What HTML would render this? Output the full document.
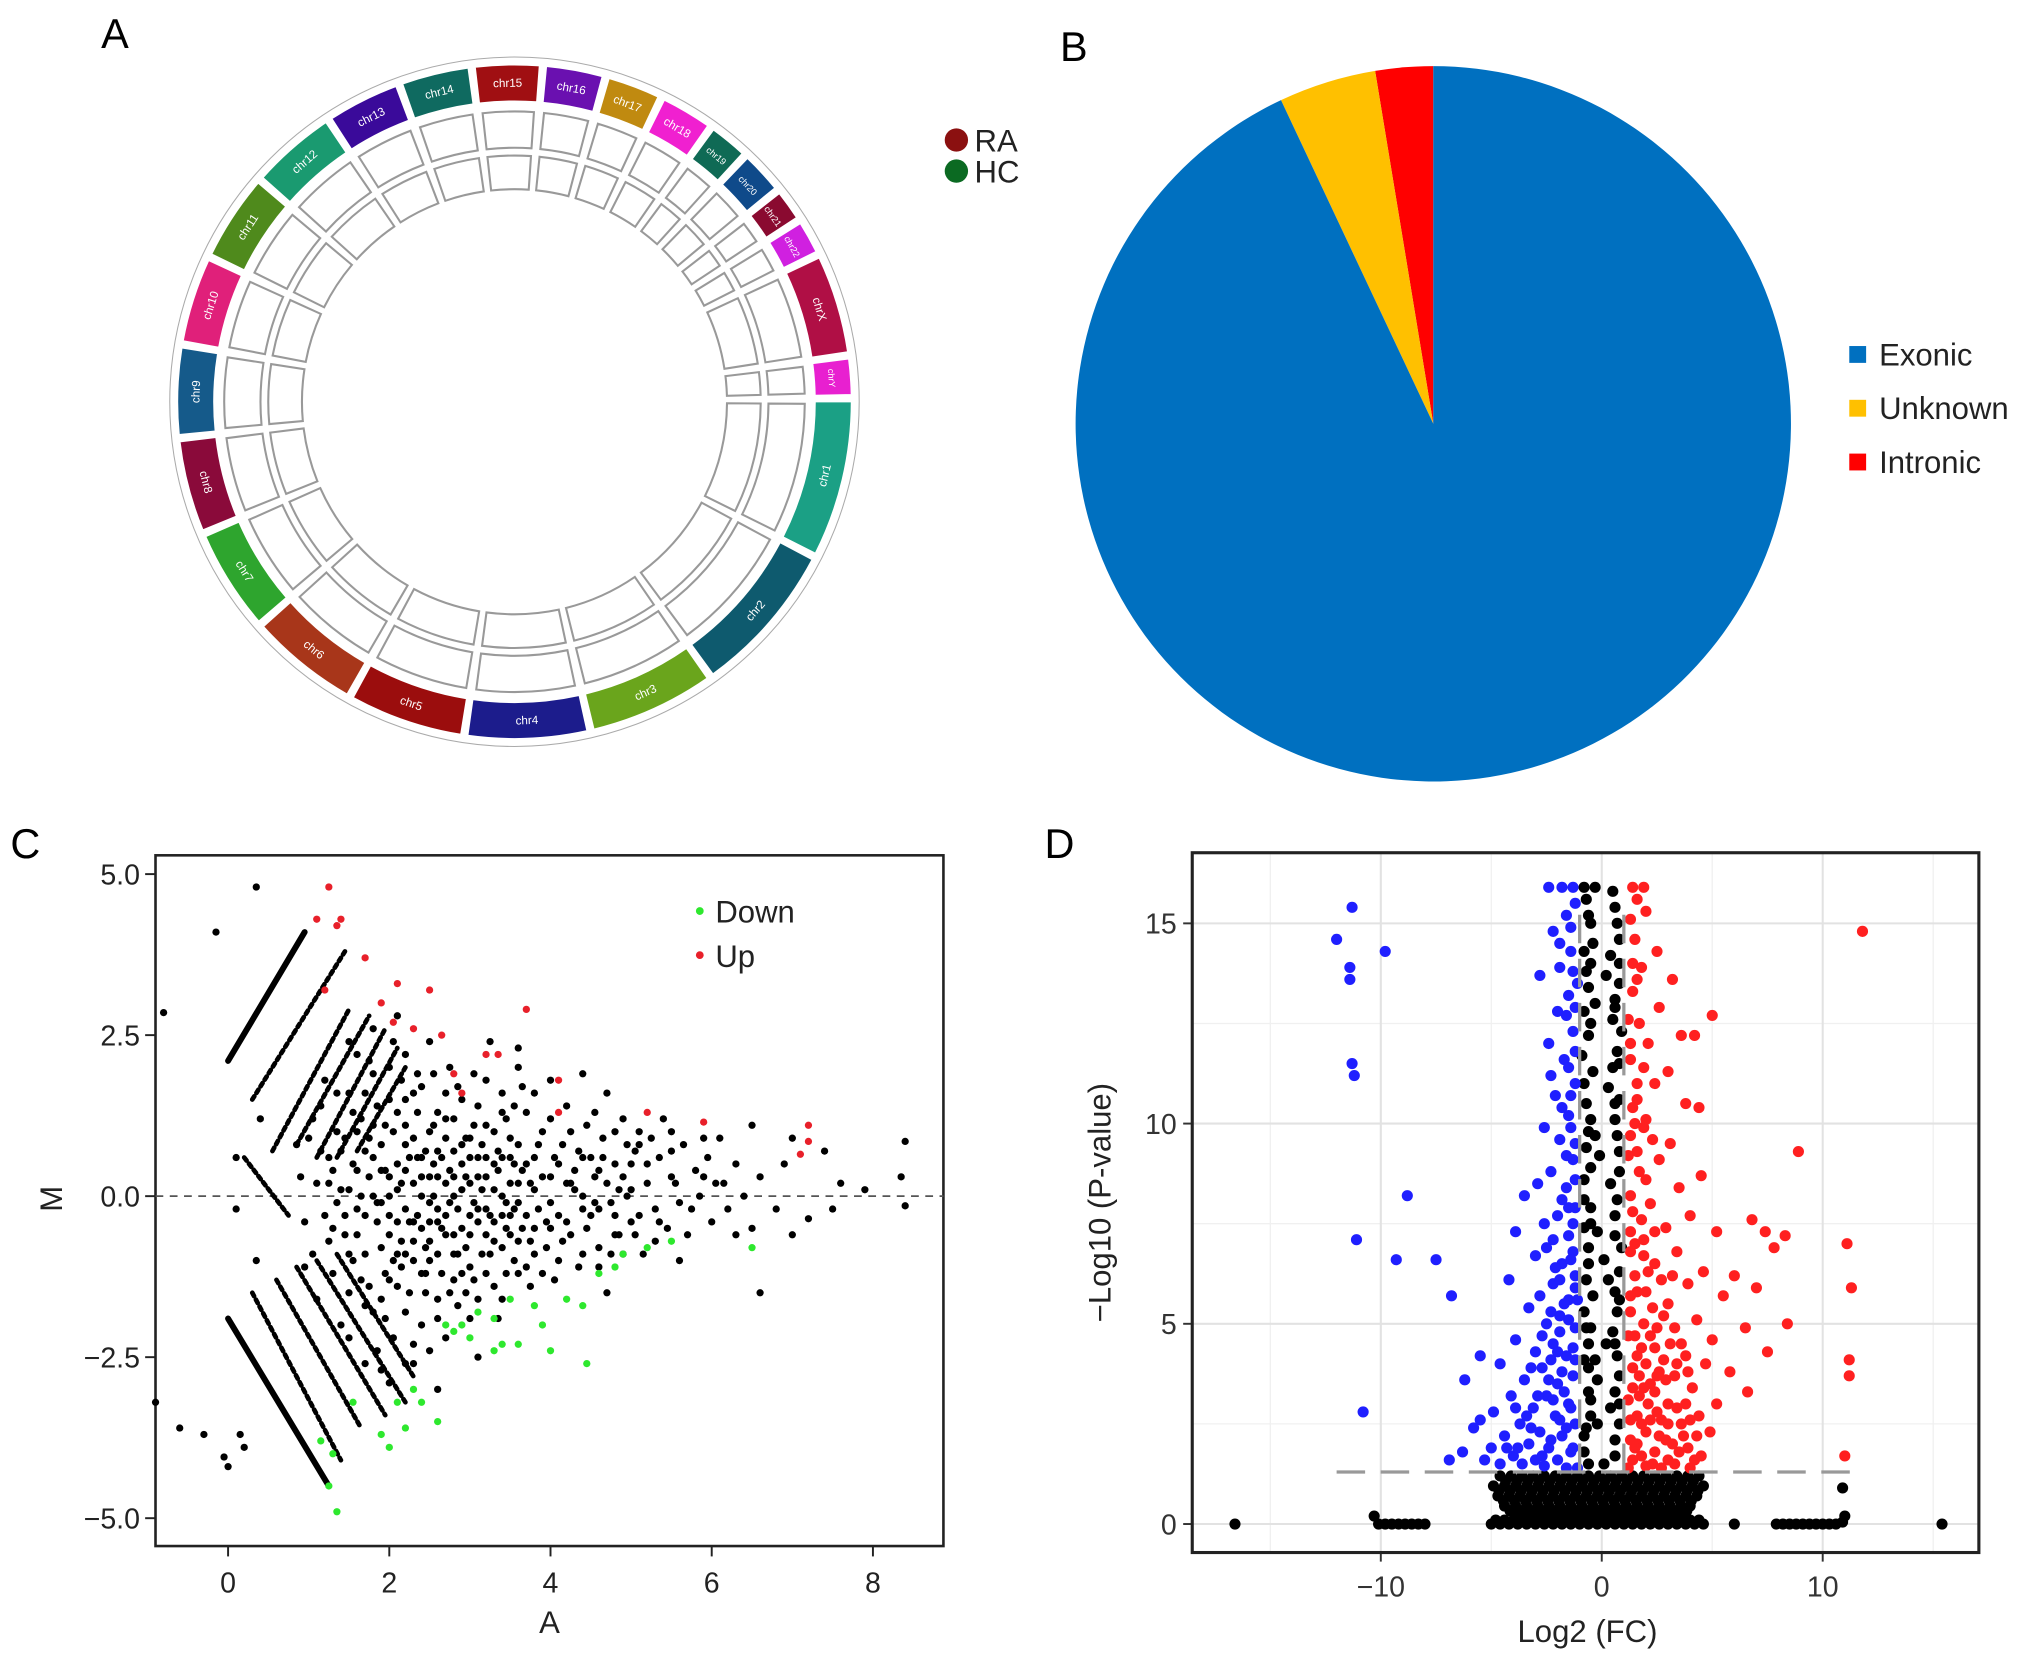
<!DOCTYPE html>
<html><head><meta charset="utf-8"><style>
html,body{margin:0;padding:0;background:#fff;}
svg{display:block;font-family:"Liberation Sans",Arial,sans-serif;}
</style></head><body>
<svg id="fig" width="2032" height="1664" viewBox="0 0 1568 1284" xmlns="http://www.w3.org/2000/svg">
<rect width="1568" height="1284" fill="#fff"/>
<text x="78" y="37" font-size="32">A</text>
<text x="818" y="47" font-size="32">B</text>
<text x="8" y="662" font-size="32">C</text>
<text x="806" y="662" font-size="32">D</text>
<g id="pa"></g>
<g>
<circle cx="738" cy="108" r="9" fill="#8b1010"/>
<text x="752" y="117" font-size="24" fill="#222">RA</text>
<circle cx="738" cy="132" r="9" fill="#0b6a22"/>
<text x="752" y="141" font-size="24" fill="#222">HC</text>
</g>
<g id="pb"></g>
<g id="pc"></g>
<g id="pd"></g>
</svg>
<script>
const NS="http://www.w3.org/2000/svg";
function mk(parent,tag,attrs,text){const e=document.createElementNS(NS,tag);for(const k in attrs)e.setAttribute(k,attrs[k]);if(text!==undefined)e.textContent=text;parent.appendChild(e);return e;}

/* ---------- Panel A data ---------- */
const chrNames=["chr1","chr2","chr3","chr4","chr5","chr6","chr7","chr8","chr9","chr10","chr11","chr12","chr13","chr14","chr15","chr16","chr17","chr18","chr19","chr20","chr21","chr22","chrX","chrY"];
const chrLen=[249,242,198,190,181,171,159,145,138,134,135,133,114,107,102,90,83,80,59,64,47,51,156,57];
const chrColor=["#1ba085","#0e5a6e","#6aa51c","#1c1c8c","#9b0d0d","#a8361a","#2ea52e","#8a0a3a","#155a8a","#e0207a","#4f8a1c","#1a9a70","#3a0a9a","#0f6a60","#a00f12","#6a10b0","#c08a10","#f020d0","#0f6a55","#0f4a8a","#8a0a30","#d020e0","#b00f45","#e820d0"];
const raMarkChr=[0,0,1,2,3,6,6,7,10,11,14,22];
const raMarkPos=[0.3,0.7,0.5,0.4,0.6,0.4,0.7,0.5,0.6,0.5,0.8,0.5];
const raMarkH=[5,5,6,7,4,20,9,16,5,5,4,6];
const hcMarkChr=[0,1,2,6,6,7,11,12,22];
const hcMarkPos=[0.4,0.6,0.3,0.5,0.75,0.4,0.6,0.5,0.5];
const hcMarkH=[5,6,9,22,7,16,6,5,6];
(function(){
 const g=document.getElementById('pa');const cx=397,cy=310;
 const gap=1.2,total=chrLen.reduce((a,b)=>a+b,0),scale=(360-gap*chrLen.length)/total;
 const P=(a,r)=>[cx+r*Math.sin(a*Math.PI/180),cy-r*Math.cos(a*Math.PI/180)];
 function sector(a0,a1,r0,r1){const p1=P(a0,r1),p2=P(a1,r1),p3=P(a1,r0),p4=P(a0,r0);const lg=(a1-a0)>180?1:0;
  return `M${p1[0]},${p1[1]}A${r1},${r1} 0 ${lg} 1 ${p2[0]},${p2[1]}L${p3[0]},${p3[1]}A${r0},${r0} 0 ${lg} 0 ${p4[0]},${p4[1]}Z`;}
 const tick=mk(g,'circle',{cx:cx,cy:cy,r:266,fill:'none',stroke:'#aaa','stroke-width':0.8});
 
 
 let a=90;const starts=[];
 chrLen.forEach((L,i)=>{
  const a0=a,a1=a+L*scale;starts.push([a0,a1]);
  const band=mk(g,'path',{d:sector(a0,a1,232,260),fill:chrColor[i],stroke:'#fff','stroke-width':1});
  
  
  const t1=mk(g,'path',{d:sector(a0+0.4,a1-0.4,196,224),fill:'#fff',stroke:'#999','stroke-width':1.6});
  
  
  const t2=mk(g,'path',{d:sector(a0+0.4,a1-0.4,164,190),fill:'#fff',stroke:'#999','stroke-width':1.6});
  
  
  const mid=(a0+a1)/2;const p=P(mid,246);let rot=mid;if(mid>90&&mid<270)rot=mid-180;
  const lab=mk(g,'text',{x:p[0],y:p[1]+3,'font-size':L<70?7:9,fill:'#fff','text-anchor':'middle',transform:`rotate(${rot} ${p[0]} ${p[1]})`},chrNames[i]);
  
  
  a=a1+gap;
 });
 function marks(chr,pos,h,r0,col,nm){chr.forEach((c,i)=>{const s=starts[c];const ang=s[0]+(s[1]-s[0])*pos[i];
  const p0=P(ang,r0),p1=P(ang-2,r0+h),p2=P(ang+2,r0+h*0.4);
  const m=mk(g,'path',{d:`M${p0[0]},${p0[1]}L${p1[0]},${p1[1]}L${p2[0]},${p2[1]}Z`,fill:col});
  
  });}
 marks(raMarkChr,raMarkPos,raMarkH,199,'#8b1010','ra-peak');
 marks(hcMarkChr,hcMarkPos,hcMarkH,167,'#0b6a22','hc-peak');
})();

/* ---------- Panel B data ---------- */
const pieLabels=["Exonic","Unknown","Intronic"];
const pieValues=[93.0,4.4,2.6];
const pieColors=["#0070c0","#ffc000","#ff0000"];
(function(){
 const g=document.getElementById('pb');const cx=1106,cy=327,r=276;
 const tot=pieValues.reduce((a,b)=>a+b,0);
 let ang=0;
 for(let k=pieValues.length-1;k>=0;k--){
  const sw=pieValues[k]/tot*360;const a0=ang,a1=ang-sw;
  const P=a=>[cx+r*Math.sin(a*Math.PI/180),cy-r*Math.cos(a*Math.PI/180)];
  const p0=P(a0),p1=P(a1);
  const s=mk(g,'path',{d:`M${cx},${cy}L${p0[0]},${p0[1]}A${r},${r} 0 ${sw>180?1:0} 0 ${p1[0]},${p1[1]}Z`,fill:pieColors[k]});
  
  
  ang=a1;
 }
 pieLabels.forEach((l,i)=>{
  const y=274+i*41.5;
  const sq=mk(g,'rect',{x:1427,y:y-7,width:13,height:13,fill:pieColors[i]});
  
  
  const t=mk(g,'text',{x:1450,y:y+8,'font-size':24,fill:'#222'},l);
  
  
 });
})();

/* ---------- Panel C data ---------- */
const cTicksX=[0,2,4,6,8];
const cTicksY=[5.0,2.5,0.0,-2.5,-5.0];
const cTickLabelsY=["5.0","2.5","0.0","\u22122.5","\u22125.0"];
const cBandStart=[[0,2.1],[0.3,1.5],[0.55,0.7],[0.85,0.8],[1.1,0.6],[1.35,0.6],[1.6,0.7],[0,-1.9],[0.3,-1.5],[0.6,-1.3],[0.85,-1.1],[1.1,-1.0],[1.35,-0.9],[0.2,0.6]];
const cBandEnd=[[0.95,4.1],[1.45,3.8],[1.5,2.9],[1.75,2.8],[1.95,2.6],[2.1,2.3],[2.2,2.0],[1.25,-4.5],[1.4,-4.1],[1.65,-3.6],[1.95,-3.4],[2.2,-3.2],[2.3,-2.8],[0.75,-0.3]];
const cBlack=[[0.35,4.8],[-0.15,4.1],[-0.8,2.85],[-0.9,-3.2],[-0.6,-3.6],[-0.3,-3.7],[0,-4.2],[-0.05,-4.05],[0.2,-3.9],[0.15,-3.7],[6.6,-1.5],[8.4,0.85],[8.35,0.3],[8.4,-0.15],[7.9,0.1],[7.6,0.2],[7.4,0.7],[7.0,0.9],[6.9,0.5],[6.5,1.1],[6.1,0.9],[7.5,-0.2],[7.2,-0.35],[6.8,-0.2],[7.0,-0.6],[6.3,-0.6],[5.9,0.3],[0.1,0.6],[0.1,-0.2],[0.4,1.2],[0.35,-1.0],
[0.9,0.3],[0.95,-0.4],[1.0,0.9],[1.05,-0.9],[1.1,0.2],[1.15,1.4],[1.2,-0.3],[1.25,0.6],[1.3,-1.2],[1.35,1.0],[1.4,0.1],[1.45,-0.6],[1.5,1.6],[1.5,-1.5],[1.55,0.5],[1.6,-0.2],[1.65,1.2],[1.7,-0.9],[1.75,0.3],[1.8,1.9],[1.8,-1.8],[1.85,-0.4],[1.9,0.8],[1.95,-1.2],[2.0,0.0],[2.0,1.5],[2.05,-2.2],[2.1,0.5],[2.15,-0.7],[2.2,1.1],[2.2,2.2],[2.25,-1.5],[2.3,0.2],[2.35,-0.3],[2.4,1.7],[2.4,-2.0],[2.45,0.7],[2.5,-1.0],[2.5,2.4],[2.55,0.0],[2.6,1.3],[2.6,-1.6],[2.65,-0.5],[2.7,0.9],[2.75,2.0],[2.8,-1.3],[2.8,0.3],[2.85,-0.2],[2.9,1.5],[2.95,-0.8],[3.0,0.6],[3.0,-1.9],[3.05,1.9],[3.1,-0.4],[3.15,0.1],[3.2,1.1],[3.2,-1.2],[3.25,2.4],[3.3,-0.7],[3.35,0.4],[3.4,1.6],[3.4,-1.6],[3.45,-0.1],[3.5,0.9],[3.55,-1.0],[3.6,0.2],[3.6,2.0],[3.65,-0.5],[3.7,1.3],[3.75,-1.4],[3.8,0.6],[3.85,-0.2],[3.9,1.0],[3.95,-0.8],[4.0,0.3],[4.0,1.8],[4.05,-1.3],[4.1,-0.3],[4.15,0.8],[4.2,1.4],[4.25,-0.6],[4.3,0.1],[4.35,-1.1],[4.4,0.6],[4.45,1.1],[4.5,-0.3],[4.55,0.3],[4.6,-0.8],[4.65,0.9],[4.7,1.6],[4.75,-0.1],[4.8,0.5],[4.85,-0.6],[4.9,1.2],[4.95,0.0],[5.0,-0.4],[5.05,0.7],[5.1,1.0],[5.15,-0.9],[5.2,0.2],[5.3,-0.2],[5.35,0.6],[5.4,1.2],[5.45,-0.5],[5.5,0.3],[5.6,-0.1],[5.65,0.8],[5.7,-0.6],[5.8,0.4],[5.85,0.0],[5.9,0.9],[6.0,-0.4],[6.05,0.2],[6.2,-0.2],[6.3,0.5],[6.4,0.0],[6.5,-0.5],[6.6,0.3],
[1.1,-1.6],[1.2,1.8],[1.3,0.4],[1.35,-0.1],[1.4,-2.0],[1.45,0.9],[1.55,-1.0],[1.6,2.2],[1.65,0.0],[1.7,0.7],[1.75,-1.4],[1.8,1.1],[1.85,-2.4],[1.9,-0.1],[1.95,0.4],[2.0,-0.6],[2.05,1.0],[2.1,-1.4],[2.15,1.8],[2.2,-0.2],[2.25,0.6],[2.3,-1.0],[2.35,1.3],[2.4,-0.5],[2.45,-1.5],[2.5,0.3],[2.55,1.9],[2.6,-0.9],[2.65,0.6],[2.7,-2.2],[2.75,-0.1],[2.8,1.2],[2.85,-1.7],[2.9,0.1],[2.95,0.9],[3.0,-0.6],[3.05,-1.3],[3.1,1.4],[3.15,-0.9],[3.2,0.6],[3.25,-0.3],[3.3,1.0],[3.35,-1.9],[3.4,0.0],[3.45,1.2],[3.5,-0.6],[3.55,0.5],[3.6,-1.2],[3.65,1.7],[3.7,-0.3],[3.75,0.2],[3.8,-0.9],[1.5,0.1],[1.6,-0.6],[1.7,1.6],[1.8,0.0],[1.9,-1.6],[2.0,2.0],[2.1,0.1],[2.2,-1.8],[2.3,0.9],[2.4,0.0],[2.5,-0.4],[2.6,0.3],[2.7,1.6],[2.8,-0.6],[2.9,-1.2],[3.0,0.2],[1.25,-0.7],[1.15,0.7],[1.05,1.2],[0.95,-1.1],[0.85,0.8],
[2.0,-0.3],[2.1,-0.9],[2.3,-0.4],[2.5,-0.7],[2.7,-0.3],[2.9,-0.5],[3.1,-0.2],[3.3,-0.4],[3.5,-0.3],[2.2,0.4],[2.4,0.6],[2.6,-0.2],[2.8,0.7],[3.0,0.9],[3.2,0.3],[3.4,0.6],[3.6,0.8],[3.8,0.1],[4.0,-0.5],[4.2,0.2],[4.4,-0.2],[4.6,0.4],[4.8,-0.3],[5.0,0.5],[1.9,-2.7],[2.2,-2.6],[2.5,-2.4],[2.6,-3.0],[1.7,-2.6],[2.0,-2.9],[1.8,2.6],[2.1,2.8],[1.5,2.4],[2.3,-2.6],[3.1,-2.5],[3.6,2.3],[4.4,1.9],[5.5,1.0],[4.7,-1.5],[5.6,-1.0]];
const cBlackCore=[[1.3,-0.5],[1.4,0.7],[1.5,-0.9],[1.6,0.4],[1.7,-0.3],[1.8,0.6],[1.9,-0.8],[2.0,0.3],[2.1,-0.4],[2.2,0.8],[2.3,-0.7],[2.4,0.3],[2.5,-0.1],[2.6,0.7],[2.7,-0.6],[2.8,0.0],[2.9,0.5],[3.0,-0.3],[3.1,0.3],[3.2,-0.6],[3.3,0.1],[3.4,-0.8],[3.5,0.2],[3.6,-0.1],[3.7,0.5],[3.8,-0.5],[3.9,0.3],[4.0,-0.1],[4.1,0.5],[4.2,-0.4],[4.3,0.4],[4.4,0.0],[4.5,0.6],[4.6,-0.2],[4.7,0.2],[4.8,-0.6],[4.9,0.3],[5.0,0.1],[5.1,-0.3],[5.2,0.5],
[1.35,1.6],[1.5,-2.2],[1.6,1.0],[1.7,-1.7],[1.75,2.1],[1.85,1.4],[1.95,-1.9],[2.05,2.4],[2.15,-1.1],[2.2,1.5],[2.3,-2.3],[2.35,1.9],[2.45,-1.2],[2.55,1.1],[2.6,-1.9],[2.7,1.2],[2.75,-1.5],[2.85,1.7],[2.95,-1.5],[3.05,1.1],[3.1,-1.6],[3.2,1.8],[3.3,-1.4],[3.4,1.3],[3.45,-1.2],[3.55,1.4],[3.7,-1.1],[3.8,1.6],[3.9,-1.2],[4.0,1.2],[4.1,-1.0],[4.25,1.0],[4.4,-0.9],[4.55,1.3],[4.6,-1.1],[4.8,1.0],[4.9,-0.9],[5.1,0.8],[5.3,-0.7],[5.5,0.7],
[1.25,0.2],[1.45,-0.3],[1.55,1.3],[1.65,-1.3],[1.75,0.9],[1.85,-0.1],[1.95,1.1],[2.05,-1.0],[2.15,0.2],[2.25,-0.4],[2.35,0.6],[2.45,-0.8],[2.55,0.5],[2.65,-1.2],[2.75,0.4],[2.85,-0.9],[2.95,0.3],[3.05,-0.1],[3.15,0.8],[3.25,-0.9],[3.35,0.7],[3.45,-0.5],[3.55,-0.2],[3.65,0.4],[3.75,-0.7],[3.85,0.8],[3.95,-0.4],[4.05,0.6],[4.15,-0.7],[4.25,0.2],[4.35,0.7],[4.45,-0.5],[4.55,-0.1],[4.65,0.6],[4.75,-0.9],[4.85,0.1],[4.95,0.8],[5.05,-0.6],[5.25,0.9],[5.35,-0.4],[5.55,0.2],[5.75,-0.2],[5.95,0.6],[6.15,0.2],[1.9,0.4],[2.0,-1.3],[2.1,1.3],[2.2,-0.9],[2.3,1.6],[2.4,-1.2],[2.5,1.0],[2.6,-0.4],[2.7,0.2],[2.8,-0.9],[2.9,0.8],[3.0,-1.1],[3.1,0.6],[3.2,-0.2],[3.3,0.5],[3.4,-0.3],[3.5,0.6],[3.6,-0.7]];
const cUp=[[1.25,4.8],[1.1,4.3],[1.4,4.3],[1.35,4.2],[1.7,3.7],[2.1,3.3],[2.5,3.2],[2.3,2.6],[2.65,2.5],[3.7,2.9],[3.2,2.2],[3.35,2.2],[2.8,1.9],[2.9,1.6],[4.1,1.8],[4.1,1.3],[5.2,1.3],[5.9,1.15],[7.2,1.1],[7.2,0.85],[7.1,0.65],[1.2,3.2],[1.9,3.0],[2.05,2.7]];
const cDown=[[1.35,-4.9],[1.25,-4.5],[1.15,-3.8],[1.3,-4.0],[1.55,-3.2],[1.9,-3.7],[2.0,-3.9],[2.1,-3.2],[2.2,-3.6],[2.4,-3.2],[2.6,-3.5],[2.3,-3.0],[2.8,-2.1],[2.7,-2.0],[2.9,-2.0],[3.1,-1.8],[3.3,-1.9],[3.5,-1.6],[3.4,-2.3],[3.6,-2.3],[3.8,-1.7],[3.9,-2.0],[4.4,-1.7],[4.45,-2.6],[4.0,-2.4],[3.3,-2.4],[4.6,-1.2],[4.8,-1.1],[4.9,-0.9],[5.2,-0.8],[5.5,-0.7],[6.5,-0.8],[4.2,-1.6],[3.0,-2.2]];
(function(){
 const g=document.getElementById('pc');
 const X=a=>176+62.2*a, Y=m=>923-49.7*m;
 const fr=mk(g,'rect',{x:120,y:660,width:608,height:533,fill:'none',stroke:'#222','stroke-width':2});
 
 
 const zl=mk(g,'line',{x1:120,x2:728,y1:Y(0),y2:Y(0),stroke:'#555','stroke-width':1.3,'stroke-dasharray':'6 5'});
 
 
 cTicksX.forEach(v=>{
  const tk=mk(g,'line',{x1:X(v),x2:X(v),y1:1193,y2:1201,stroke:'#222','stroke-width':1.5});
  
  
  const t=mk(g,'text',{x:X(v),y:1229,'font-size':22,'text-anchor':'middle',fill:'#222'},String(v));
  
  
 });
 cTicksY.forEach((v,i)=>{
  const tk=mk(g,'line',{x1:112,x2:120,y1:Y(v),y2:Y(v),stroke:'#222','stroke-width':1.5});
  
  
  const t=mk(g,'text',{x:108,y:Y(v)+8,'font-size':22,'text-anchor':'end',fill:'#222'},cTickLabelsY[i]);
  
  
 });
 cBandStart.forEach((s,i)=>{const e=cBandEnd[i];
  const l=mk(g,'line',{x1:X(s[0]),y1:Y(s[1]),x2:X(e[0]),y2:Y(e[1]),stroke:'#000','stroke-width':i%7===0?4.6:3.6,'stroke-linecap':'round','stroke-dasharray':i%7===0?'':'3 3'});
  
  
 });
 cBlack.forEach(p=>{const c=mk(g,'circle',{cx:X(p[0]),cy:Y(p[1]),r:2.8,fill:'#000'});
  
  });
 cBlackCore.forEach(p=>{const c=mk(g,'circle',{cx:X(p[0]),cy:Y(p[1]),r:2.8,fill:'#000'});
  
  });
 cUp.forEach(p=>{const c=mk(g,'circle',{cx:X(p[0]),cy:Y(p[1]),r:2.8,fill:'#e8202a'});
  
  });
 cDown.forEach(p=>{const c=mk(g,'circle',{cx:X(p[0]),cy:Y(p[1]),r:2.8,fill:'#2ee82e'});
  
  });
 const l1=mk(g,'circle',{cx:540,cy:703,r:3,fill:'#2ee82e'});
 
 
 const t1=mk(g,'text',{x:552,y:712,'font-size':24,fill:'#222'},'Down');
 
 
 const l2=mk(g,'circle',{cx:540,cy:737,r:3,fill:'#e8202a'});
 
 
 const t2=mk(g,'text',{x:552,y:746,'font-size':24,fill:'#222'},'Up');
 
 
 const xt=mk(g,'text',{x:424,y:1260,'font-size':24,'text-anchor':'middle',fill:'#222'},'A');
 
 
 const yt=mk(g,'text',{x:48,y:925,'font-size':24,'text-anchor':'middle',fill:'#222',transform:'rotate(-90 48 925)'},'M');
 
 
})();

/* ---------- Panel D data ---------- */
const dTicksX=[-10,0,10];
const dTicksY=[0,5,10,15];
const dMinorX=[-15,-5,5,15];
const dMinorY=[2.5,7.5,12.5];
const dPThreshold=1.3;
const dFcThreshold=1;
const dBlue=[[-11.3,15.4],[-12.0,14.6],[-11.4,13.9],[-11.4,13.6],[-9.8,14.3],[-11.3,11.5],[-11.2,11.2],[-11.1,7.1],[-10.8,2.8],[-8.8,8.2],[-9.3,6.6],[-7.5,6.6],[-6.8,5.7],[-5.5,4.2],[-5.5,2.6],
[-1.8,15.9],[-1.3,15.9],[-2.4,15.9],[-1.6,15.2],[-2.2,14.8],[-1.4,14.3],[-1.9,13.9],[-2.8,13.7],[-1.5,13.2],[-2.0,12.8],[-1.3,12.3],[-2.4,12.0],[-1.7,11.6],[-1.2,11.0],[-2.1,10.7],[-1.5,10.2],[-2.6,9.9],[-1.9,9.6],[-1.3,9.1],[-2.3,8.8],[-1.6,8.4],[-3.5,8.2],[-2.9,8.5],[-1.2,7.9],[-2.0,7.7],[-3.9,7.3],[-1.5,7.2],[-2.5,6.9],[-3.0,6.7],[-1.8,6.5],[-1.2,6.2],[-4.2,6.1],[-2.2,6.0],[-2.8,5.7],[-1.5,5.6],[-3.3,5.4],[-1.9,5.2],[-2.5,5.0],[-1.2,4.9],[-3.9,4.6],[-2.2,4.5],[-3.0,4.3],[-1.6,4.2],[-4.6,4.0],[-2.7,3.9],[-1.3,3.7],[-3.5,3.6],[-2.0,3.5],[-4.1,3.2],[-2.5,3.2],[-1.5,3.0],[-3.1,2.9],[-4.9,2.8],[-2.1,2.7],[-3.7,2.5],[-1.2,2.5],[-2.8,2.3],[-4.4,2.2],[-1.8,2.2],[-3.3,2.0],[-5.0,1.9],[-2.4,1.9],[-1.4,1.8],[-4.0,1.7],[-3.0,1.6],[-2.0,1.6],[-5.3,1.6],[-4.6,1.5],[-3.6,1.5],[-2.6,1.45],[-1.6,1.4],[-1.1,1.4],[-1.3,6.8],[-1.4,9.9],[-1.1,13.5],[-1.2,15.5],[-2.3,11.2],[-1.7,3.3],[-2.3,4.1],[-3.8,1.9],[-3.2,3.9],[-1.9,4.8],[-1.1,5.6],[-2.6,7.5],[-1.6,12.7],[-1.9,14.5],[-5.8,2.4],[-6.2,3.6],[-6.3,1.8],[-6.9,1.6],
[-1.4,2.9],[-1.9,2.6],[-2.2,3.1],[-1.3,4.4],[-1.7,5.5],[-1.2,8.6],[-1.8,10.4],[-1.2,12.9],[-2.1,6.4],[-1.5,7.9],[-2.7,4.7],[-3.4,2.7],[-4.3,1.9],[-2.9,3.2],
[-1.3,1.9],[-1.6,2.4],[-2.3,2.1],[-2.7,1.7],[-3.2,2.4],[-3.9,2.9],[-1.8,3.8],[-2.4,3.6],[-1.2,4.1],[-2.0,4.3],[-1.5,5.1],[-2.3,5.3],[-1.2,5.9],[-1.9,6.1],[-1.4,6.6],[-2.2,7.1],[-1.3,7.5],[-1.8,8.1],[-1.2,9.5],[-1.6,9.2],[-1.4,10.7],[-1.2,11.8],[-1.5,11.4],[-1.3,13.8],[-1.4,14.9]];
const dRed=[[1.4,15.9],[1.9,15.9],[1.6,15.6],[2.0,15.3],[1.5,14.6],[2.5,14.3],[1.8,13.9],[3.2,13.6],[1.4,13.3],[2.6,12.9],[1.7,12.5],[3.6,12.2],[4.2,12.2],[2.1,12.0],[1.3,11.6],[3.0,11.3],[5.0,12.7],[2.4,11.0],[1.6,10.6],[3.8,10.5],[4.4,10.4],[2.0,10.1],[1.3,9.7],[3.1,9.5],[2.6,9.1],[4.5,8.7],[1.7,8.8],[3.5,8.4],[2.2,8.0],[8.9,9.3],[1.4,7.8],[4.0,7.7],[2.9,7.4],[5.2,7.3],[1.9,7.1],[6.8,7.6],[7.4,7.3],[7.8,6.9],[8.3,7.2],[3.4,6.8],[2.4,6.5],[4.6,6.3],[1.5,6.2],[3.9,6.0],[6.0,6.2],[7.0,5.9],[2.0,5.8],[5.5,5.7],[3.0,5.5],[8.4,5.0],[1.3,5.3],[4.3,5.1],[2.5,4.9],[6.5,4.9],[5.0,4.6],[3.6,4.5],[1.8,4.4],[7.5,4.3],[2.8,4.1],[4.7,4.0],[1.4,3.9],[5.8,3.8],[3.3,3.7],[2.2,3.5],[4.1,3.4],[6.6,3.3],[1.7,3.2],[3.0,3.0],[5.2,3.0],[2.5,2.8],[4.4,2.7],[1.3,2.6],[3.6,2.5],[2.0,2.3],[4.9,2.3],[2.9,2.1],[1.6,2.0],[3.9,1.9],[2.4,1.8],[4.5,1.7],[1.4,1.6],[3.3,1.5],[2.0,1.45],[4.0,1.4],[1.2,1.4],[2.7,1.4],[1.5,4.7],[1.9,6.7],[1.3,8.2],[2.3,9.6],[1.6,11.0],[2.8,5.2],[3.4,4.0],[2.1,3.0],[3.0,2.5],[1.8,1.7],[11.8,14.8],[11.1,7.0],[11.3,5.9],[11.2,4.1],[11.2,3.7],[11.0,1.7],[3.7,2.2],[2.6,3.8],[1.9,5.0],
[1.3,2.1],[1.6,2.7],[2.2,2.6],[2.6,2.2],[3.2,2.0],[1.4,3.4],[2.0,4.0],[2.4,4.4],[3.1,4.5],[3.8,3.0],[4.3,2.2],[1.7,3.7],[1.2,4.7],[2.3,5.4],[1.6,5.8],[1.3,6.8],[2.7,6.1],[1.8,7.6],[1.2,9.2],[2.0,8.6],[1.5,10.0],[1.3,12.0],[1.9,11.4],[1.4,14.0],[1.3,15.1],
[1.5,1.9],[2.3,1.5],[3.5,1.8],[1.8,2.5],[2.7,2.6],[3.4,2.9],[4.0,2.6],[1.2,3.1],[2.4,3.3],[2.9,3.6],[3.9,3.8],[1.6,4.2],[2.2,4.7],[3.3,4.9],[1.3,5.7],[2.1,6.3],[3.2,6.2],[1.5,7.0],[2.4,7.3],[1.3,7.3],[1.6,9.3],[1.9,9.9],[1.4,10.4],[1.2,12.6],[1.6,13.6],[4.2,1.6],[3.0,1.6],[1.9,3.4],[2.5,3.7],[3.8,4.2]];
const dBlack=[[-0.8,15.9],[-0.3,15.9],[0.5,15.8],[-0.6,15.2],[0.7,15.0],[-0.4,14.5],[0.4,14.2],[-0.7,13.8],[0.8,13.5],[-0.3,13.0],[0.5,12.6],[-0.6,12.2],[0.7,11.8],[-0.4,11.3],[0.3,10.9],[-0.7,10.5],[0.6,10.1],[-0.3,9.7],[0.8,9.3],[-0.5,8.9],[0.4,8.5],[-0.8,8.1],[0.6,7.7],[-0.2,7.3],[0.9,6.9],[-0.6,6.5],[0.3,6.1],[-0.4,5.7],[0.7,5.3],[-0.7,4.9],[0.2,4.5],[-0.3,4.1],[0.8,3.7],[-0.6,3.3],[0.4,2.9],[-0.2,2.5],[0.6,2.1],[-0.8,1.8],[0.1,1.5],[-0.5,2.7],[0.5,4.8],[-0.5,7.9],[0.5,11.4],[-0.5,14.0],[0.2,13.7],[-0.1,9.2],[0.1,6.6],[-0.2,3.6],[0.9,12.3],[-0.9,11.7],
[-0.6,1.5],[-0.8,2.2],[-0.6,3.9],[-0.8,5.3],[-0.6,6.9],[-0.7,9.4],[-0.8,12.8],[-0.5,10.1],[-0.8,7.4],[-0.6,4.5],[0.8,2.5],[0.6,3.3],[0.7,4.2],[0.6,5.8],[0.8,6.3],[0.7,8.1],[0.8,10.6],[0.6,13.1],[0.8,14.6],[0.7,9.7],
[-0.7,15.6],[-0.5,15.0],[-0.8,14.3],[-0.6,13.4],[-0.5,12.5],[-0.8,11.0],[-0.6,9.8],[-0.8,8.6],[-0.5,7.5],[-0.7,6.1],[-0.5,4.9],[-0.8,4.1],[-0.5,3.1],[-0.7,2.4],[0.6,15.4],[0.8,14.0],[0.6,12.9],[0.8,11.5],[0.6,10.5],[0.8,8.8],[0.6,7.2],[0.8,5.6],[0.6,4.5],[0.8,3.0],[0.6,1.7],
[-4.6,1.2],[-4.1,1.2],[-3.6,1.2],[-3.1,1.2],[-2.6,1.2],[-2.1,1.2],[-1.6,1.2],[-1.1,1.2],[-0.6,1.2],[-0.1,1.2],[0.4,1.2],[0.9,1.2],[1.4,1.2],[1.9,1.2],[2.4,1.2],[2.9,1.2],[3.4,1.2],[3.9,1.2],[4.4,1.2],
[-4.9,0.95],[-4.4,0.95],[-3.9,0.95],[-3.4,0.95],[-2.9,0.95],[-2.4,0.95],[-1.9,0.95],[-1.4,0.95],[-0.9,0.95],[-0.4,0.95],[0.1,0.95],[0.6,0.95],[1.1,0.95],[1.6,0.95],[2.1,0.95],[2.6,0.95],[3.1,0.95],[3.6,0.95],[4.1,0.95],[4.6,0.95],
[-4.7,0.7],[-4.2,0.7],[-3.7,0.7],[-3.2,0.7],[-2.7,0.7],[-2.2,0.7],[-1.7,0.7],[-1.2,0.7],[-0.7,0.7],[-0.2,0.7],[0.3,0.7],[0.8,0.7],[1.3,0.7],[1.8,0.7],[2.3,0.7],[2.8,0.7],[3.3,0.7],[3.8,0.7],[4.3,0.7],
[-4.4,0.45],[-3.9,0.45],[-3.4,0.45],[-2.9,0.45],[-2.4,0.45],[-1.9,0.45],[-1.4,0.45],[-0.9,0.45],[-0.4,0.45],[0.1,0.45],[0.6,0.45],[1.1,0.45],[1.6,0.45],[2.1,0.45],[2.6,0.45],[3.1,0.45],[3.6,0.45],[4.0,0.45],
[-3.9,0.2],[-3.4,0.2],[-2.9,0.2],[-2.4,0.2],[-1.9,0.2],[-1.4,0.2],[-0.9,0.2],[-0.4,0.2],[0.1,0.2],[0.6,0.2],[1.1,0.2],[1.6,0.2],[2.1,0.2],[2.6,0.2],[3.1,0.2],[3.6,0.2],
[-5.0,0.0],[-4.6,0.0],[-4.2,0.0],[-3.8,0.0],[-3.4,0.0],[-3.0,0.0],[-2.6,0.0],[-2.2,0.0],[-1.8,0.0],[-1.4,0.0],[-1.0,0.0],[-0.6,0.0],[-0.2,0.0],[0.2,0.0],[0.6,0.0],[1.0,0.0],[1.4,0.0],[1.8,0.0],[2.2,0.0],[2.6,0.0],[3.0,0.0],[3.4,0.0],[3.8,0.0],[4.2,0.0],[4.6,0.0],
[-16.6,0.0],[15.4,0.0],[6.0,0.0],[-10.3,0.2],[-10.1,0.0],[-9.8,0.0],[-9.5,0.0],[-9.2,0.0],[-8.9,0.0],[-8.6,0.0],[-8.3,0.0],[-8.0,0.0],[7.9,0.0],[8.2,0.0],[8.5,0.0],[8.8,0.0],[9.1,0.0],[9.4,0.0],[9.7,0.0],[10.0,0.0],[10.3,0.0],[10.6,0.0],[10.9,0.05],[11.0,0.2],[10.9,0.9]];
const dBlackFill=[[-4.35,1.08],[-3.85,1.08],[-3.35,1.08],[-2.85,1.08],[-2.35,1.08],[-1.85,1.08],[-1.35,1.08],[-0.85,1.08],[-0.35,1.08],[0.15,1.08],[0.65,1.08],[1.15,1.08],[1.65,1.08],[2.15,1.08],[2.65,1.08],[3.15,1.08],[3.65,1.08],[4.15,1.08],
[-4.65,0.83],[-4.15,0.83],[-3.65,0.83],[-3.15,0.83],[-2.65,0.83],[-2.15,0.83],[-1.65,0.83],[-1.15,0.83],[-0.65,0.83],[-0.15,0.83],[0.35,0.83],[0.85,0.83],[1.35,0.83],[1.85,0.83],[2.35,0.83],[2.85,0.83],[3.35,0.83],[3.85,0.83],[4.35,0.83],
[-4.45,0.58],[-3.95,0.58],[-3.45,0.58],[-2.95,0.58],[-2.45,0.58],[-1.95,0.58],[-1.45,0.58],[-0.95,0.58],[-0.45,0.58],[0.05,0.58],[0.55,0.58],[1.05,0.58],[1.55,0.58],[2.05,0.58],[2.55,0.58],[3.05,0.58],[3.55,0.58],[4.05,0.58],
[-4.15,0.33],[-3.65,0.33],[-3.15,0.33],[-2.65,0.33],[-2.15,0.33],[-1.65,0.33],[-1.15,0.33],[-0.65,0.33],[-0.15,0.33],[0.35,0.33],[0.85,0.33],[1.35,0.33],[1.85,0.33],[2.35,0.33],[2.85,0.33],[3.35,0.33],[3.85,0.33],
[-4.8,0.1],[-4.4,0.1],[-4.0,0.1],[-3.6,0.1],[-3.2,0.1],[-2.8,0.1],[-2.4,0.1],[-2.0,0.1],[-1.6,0.1],[-1.2,0.1],[-0.8,0.1],[-0.4,0.1],[0.0,0.1],[0.4,0.1],[0.8,0.1],[1.2,0.1],[1.6,0.1],[2.0,0.1],[2.4,0.1],[2.8,0.1],[3.2,0.1],[3.6,0.1],[4.0,0.1],[4.4,0.1]];
(function(){
 const g=document.getElementById('pd');
 const X=v=>1236+17.05*v, Y=v=>1176-30.9*v;
 const x0=920,x1=1527,y0=658,y1=1198;
 dMinorX.forEach(v=>{const l=mk(g,'line',{x1:X(v),x2:X(v),y1:y0,y2:y1,stroke:'#f0f0f0','stroke-width':1});
  
  });
 dMinorY.forEach(v=>{const l=mk(g,'line',{x1:x0,x2:x1,y1:Y(v),y2:Y(v),stroke:'#f0f0f0','stroke-width':1});
  
  });
 dTicksX.forEach(v=>{const l=mk(g,'line',{x1:X(v),x2:X(v),y1:y0,y2:y1,stroke:'#e2e2e2','stroke-width':1.6});
  
  
  const tk=mk(g,'line',{x1:X(v),x2:X(v),y1:y1,y2:y1+7,stroke:'#333','stroke-width':1.5});
  
  
  const t=mk(g,'text',{x:X(v),y:1232,'font-size':22,'text-anchor':'middle',fill:'#333'},v<0?'\u2212'+Math.abs(v):String(v));
  
  });
 dTicksY.forEach(v=>{const l=mk(g,'line',{x1:x0,x2:x1,y1:Y(v),y2:Y(v),stroke:'#e2e2e2','stroke-width':1.6});
  
  
  const tk=mk(g,'line',{x1:x0-7,x2:x0,y1:Y(v),y2:Y(v),stroke:'#333','stroke-width':1.5});
  
  
  const t=mk(g,'text',{x:x0-12,y:Y(v)+8,'font-size':22,'text-anchor':'end',fill:'#333'},String(v));
  
  });
 const draw=(arr,col,nm,r)=>arr.forEach(p=>{const c=mk(g,'circle',{cx:X(p[0]),cy:Y(p[1]),r:r,fill:col});
  
  });
 draw(dBlack,'#000','not-significant-point',4.3);
 draw(dBlackFill,'#000','not-significant-point',4.3);
 draw(dBlue,'#1f1fff','down-regulated-point',4.3);
 draw(dRed,'#ff2020','up-regulated-point',4.3);
 const hl=mk(g,'line',{x1:X(-12),x2:X(11.8),y1:Y(dPThreshold),y2:Y(dPThreshold),stroke:'#999','stroke-width':2.5,'stroke-dasharray':'22 12'});
 
 
 [-dFcThreshold,dFcThreshold].forEach(v=>{const l=mk(g,'line',{x1:X(v),x2:X(v),y1:Y(dPThreshold),y2:Y(15.6),stroke:'#999','stroke-width':2.5,'stroke-dasharray':'22 12'});
  
  });
 const fr=mk(g,'rect',{x:x0,y:y0,width:x1-x0,height:y1-y0,fill:'none',stroke:'#222','stroke-width':2.4});
 
 
 const xt=mk(g,'text',{x:1225,y:1267,'font-size':24,'text-anchor':'middle',fill:'#222'},'Log2 (FC)');
 
 
 const yt=mk(g,'text',{x:857,y:928,'font-size':24,'text-anchor':'middle',fill:'#222',transform:'rotate(-90 857 928)'},'\u2212Log10 (P-value)');
 
 
})();
</script>
</body></html>
